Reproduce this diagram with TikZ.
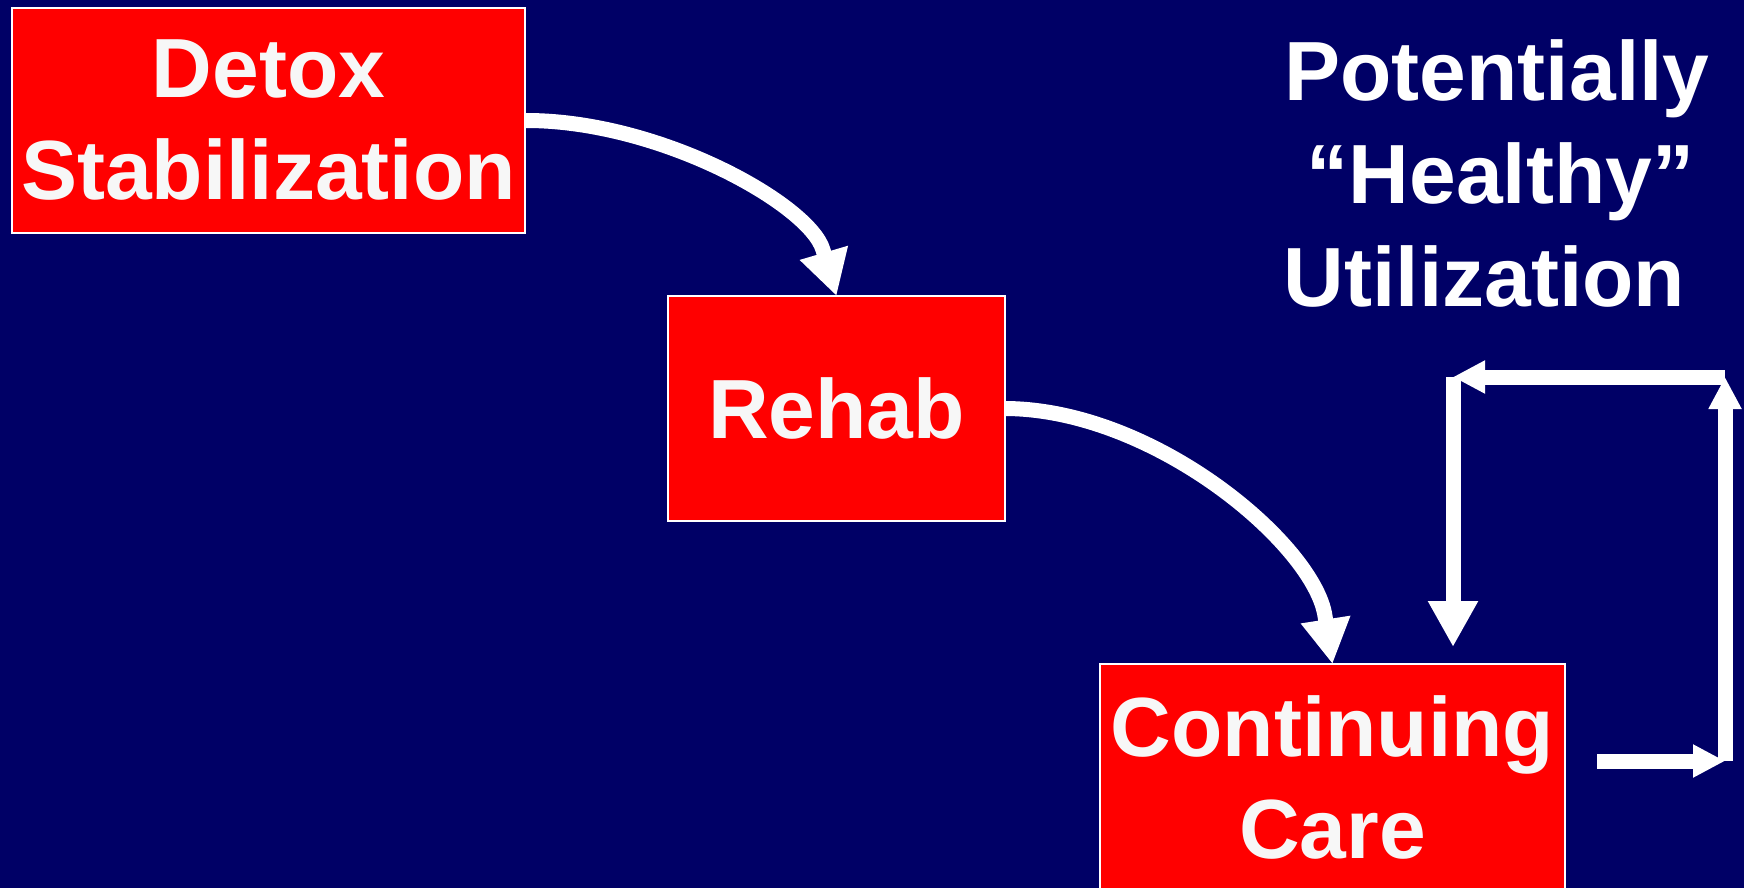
\documentclass[tikz,border=0pt]{standalone}
\usepackage{fontspec}
\setmainfont{Liberation Sans}
\usetikzlibrary{arrows.meta}
\definecolor{bg}{HTML}{000066}
\definecolor{boxred}{HTML}{FF0000}
\definecolor{txt}{HTML}{F7F7F7}
\begin{document}
\begin{tikzpicture}[x=0.5pt,y=-0.5pt,
  stage/.style={draw=white, line width=1.2pt, fill=boxred, text=txt,
    font=\fontsize{42}{51}\selectfont\bfseries, align=center,
    inner sep=0pt, outer sep=0pt},
  ttl/.style={text=white, font=\fontsize{42}{51}\selectfont\bfseries,
    inner sep=0pt, anchor=base},
  flow/.style={draw=white, line width=7.5pt, line join=round,
    -{Triangle[length=22.5pt,width=23.5pt]}},
  loopar/.style={draw=white, line width=7.5pt,
    -{Triangle[length=16pt,width=15.5pt]}},
  bigloopar/.style={draw=white, line width=7.5pt,
    -{Triangle[length=23pt,width=23.5pt]}},
]
\useasboundingbox (0,0) rectangle (1744,888);
\fill[bg] (0,0) rectangle (1744,888);

\node[stage, minimum width=256.5pt, minimum height=112.5pt] (detox)
  at (268.5,120.5) {Detox\\Stabilization};
\node[stage, minimum width=168.5pt, minimum height=112.5pt] (rehab)
  at (836.5,408.5) {Rehab};
\node[stage, minimum width=232.5pt, minimum height=113.5pt] (ccare)
  at (1332.5,777.5) {Continuing\\Care};

\node[ttl] (t1) at (1497,101) {Potentially};
\node[ttl] (t2) at (1500.5,203) {“Healthy”};
\node[ttl] (t3) at (1484.5,306) {Utilization};

\draw[flow] (detox.east) .. controls (660,120) and (810,205) .. (823,250)
  -- (rehab.north);
\draw[flow] (rehab.east) .. controls (1155,409) and (1314.5,545.5) .. (1325,616)
  -- (ccare.north);

\coordinate (c0) at (1597,761);
\coordinate (c1) at (1725,761);
\coordinate (c2) at (1725,377);
\coordinate (c3) at (1453,377);
\coordinate (c4) at (1453,647);
\draw[loopar] (c0) -- (c1);
\draw[loopar] (c1) -- (c2);
\draw[loopar] (c2) -- (c3);
\draw[bigloopar] (c3) -- (c4);
\end{tikzpicture}
\end{document}
